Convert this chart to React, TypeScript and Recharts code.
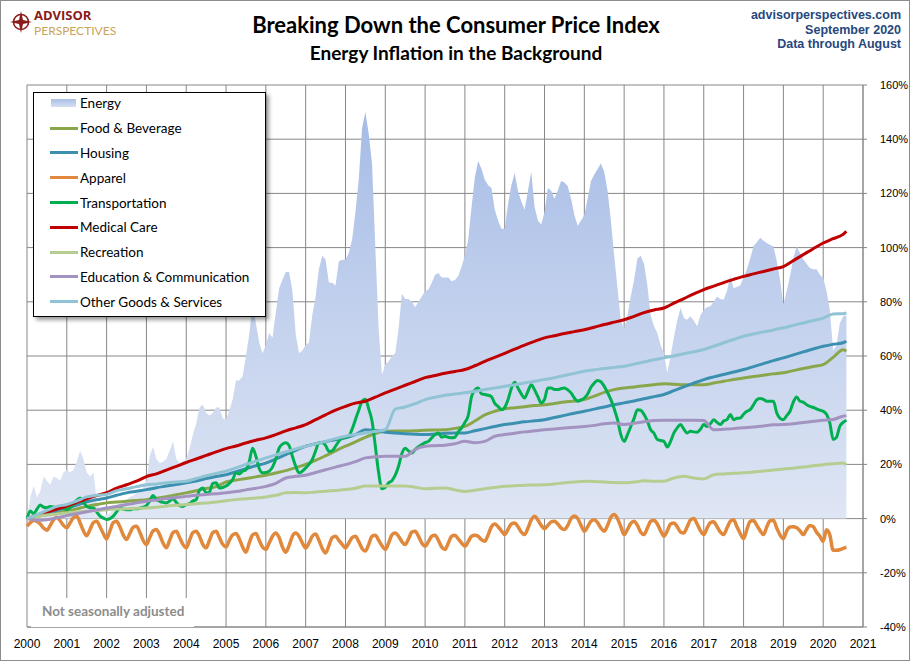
import React from 'react'
import { ComposedChart, Area, Line, XAxis, YAxis, CartesianGrid } from 'recharts'

// monthly series, Jan 2000 .. Aug 2020 (one line per year)
const energy = [
  0, 8, 12, 8, 10, 15.5, 14, 12.5, 15.5, 15, 14, 17,
  18, 17, 18, 21, 25, 22, 17, 15.5, 17, 7, 3, 1,
  1.5, 2, 4, 5, 5.5, 6, 7, 8, 8.5, 9.5, 10, 11.5,
  14, 23, 26.5, 22, 20.5, 21, 22, 25, 28.5, 22, 20.5, 21,
  22, 26, 31, 35, 41, 42, 39, 38, 39, 41, 41, 37,
  36.5, 40, 44, 51, 51, 52.5, 60, 68, 79.6, 72, 65, 61,
  64, 68.5, 66.7, 76, 85, 88, 91, 91, 84, 68, 61, 62,
  64, 65, 75, 82, 92, 97, 95.5, 87, 87, 86, 95, 95.5,
  95.5, 98, 103, 113, 125, 144, 150, 142, 131, 100, 70, 53,
  57, 58, 60, 61, 70, 83, 81, 81, 80, 78, 80, 82,
  84, 84.5, 87, 90, 90.6, 89, 89, 89, 87.6, 88, 89.5, 93,
  97, 103, 115, 126, 132, 129, 125, 123, 122, 114, 110, 107,
  107, 116, 123, 127.5, 121, 117, 114, 121, 128, 115, 110, 108.5,
  113, 122, 121, 118, 121, 124.6, 124, 122.6, 118, 112, 108, 110,
  112, 118, 124.6, 127, 129, 131, 128, 121, 110, 97, 85, 73,
  70, 75, 82, 88, 96, 97, 94, 86, 75, 71, 68.5, 64,
  61, 53.7, 60, 67, 73, 77.7, 74, 73.4, 74.7, 73, 71, 75,
  77, 78, 78.4, 80, 82, 81, 80.8, 84, 89.4, 85, 85.5, 86,
  89, 92, 96, 100.5, 102, 103.6, 102.5, 101.7, 101, 100.5, 95, 88,
  79, 84, 89.4, 96, 100.5, 98, 95.6, 94, 92.5, 92, 92, 90,
  88.8, 84, 77, 62, 64, 72, 74.7, 75,
]

const apparel = [
  -2.8, -1.5, -0.7, -1.0, -2.0, -3.5, -4.3, -2.5, -0.5, 0.5, -0.8, -2.5,
  -3.4, -1.5, 0.3, 0.9, -1.5, -4.5, -6.3, -4.0, -1.5, -1.0, -3.0, -5.5,
  -7.5, -4.5, -1.5, -1.0, -3.0, -6.0, -7.7, -5.5, -3.2, -2.8, -5.0, -8.0,
  -9.6, -7.0, -4.5, -4.0, -6.0, -9.0, -10.8, -8.0, -5.2, -4.7, -7.0, -9.5,
  -10.8, -8.0, -5.2, -4.7, -6.5, -9.5, -10.8, -8.0, -5.2, -4.7, -7.0, -9.5,
  -10.5, -8.0, -6.0, -5.5, -7.5, -10.5, -12.4, -9.0, -6.0, -5.5, -8.0, -10.5,
  -11.4, -9.0, -6.5, -5.3, -7.0, -10.5, -12.4, -10.0, -6.5, -5.3, -6.5, -9.0,
  -10.8, -9.0, -6.5, -5.7, -8.0, -11.0, -12.7, -10.0, -7.0, -6.5, -8.0, -9.5,
  -10.8, -9.0, -7.0, -6.5, -8.5, -11.0, -12.0, -9.5, -6.5, -6.1, -8.0, -10.0,
  -11.4, -9.0, -6.0, -5.3, -6.5, -8.5, -9.6, -7.5, -5.0, -4.7, -6.5, -9.0,
  -10.2, -8.5, -6.5, -6.1, -8.0, -10.5, -11.4, -9.0, -6.5, -6.1, -7.5, -9.0,
  -10.2, -8.5, -6.5, -6.1, -6.5, -7.8, -8.4, -6.0, -3.0, -2.0, -3.0, -4.5,
  -5.9, -4.0, -2.0, -1.6, -3.0, -5.0, -5.9, -3.5, -0.5, 0.9, -0.5, -2.5,
  -3.7, -2.5, -1.2, -1.0, -2.0, -3.5, -4.0, -2.5, 0.0, 1.0, 0.0, -2.5,
  -4.7, -3.0, -1.0, -0.4, -1.5, -3.5, -4.7, -2.5, 0.5, 1.5, 0.0, -3.0,
  -5.9, -4.0, -1.8, -1.0, -2.5, -5.0, -5.9, -3.5, -1.0, -0.6, -2.0, -4.5,
  -6.5, -4.5, -2.0, -1.6, -3.0, -5.0, -5.3, -3.0, -0.5, 0.0, -2.0, -4.5,
  -5.9, -3.5, -1.5, -1.2, -3.0, -5.0, -5.9, -3.5, -1.0, -0.4, -3.0, -5.5,
  -7.4, -4.0, -1.0, -0.7, -2.5, -4.5, -5.9, -3.0, -0.8, -0.6, -3.5, -6.0,
  -7.4, -4.5, -3.1, -3.0, -3.4, -4.5, -5.9, -4.0, -2.5, -3.0, -5.0, -6.5,
  -8.4, -4.1, -6.0, -11.7, -11.7, -11.5, -11.0, -10.5,
]

const transportation = [
  0, 2.8, 1.8, 3.5, 5.0, 4.2, 4.0, 4.5, 4.3, 3.8, 4.3, 3.8,
  3.3, 4.0, 5.2, 6.8, 7.6, 6.1, 4.5, 4.0, 3.9, 2.5, 0.9, 0.2,
  -0.3, 0, 0.9, 2.5, 3.9, 3.5, 3.3, 3.3, 3.6, 3.6, 3.8, 4.2,
  4.8, 6.5, 8.5, 7.0, 6.4, 6.0, 5.8, 6.5, 7.3, 6.0, 4.8, 4.5,
  5.2, 5.5, 6.5, 7.0, 10.5, 11.3, 9.5, 9.8, 13.0, 13.2, 11.3, 11.5,
  12.0, 13.0, 14.4, 16.9, 16.5, 17.5, 18.0, 21.0, 26.0, 23.0, 18.5, 16.9,
  17.0, 17.5, 19.0, 22.0, 26.0, 27.5, 28.0, 27.0, 23.0, 19.3, 16.9, 17.5,
  18.7, 20.0, 21.8, 25.0, 28.0, 28.0, 27.0, 24.8, 25.0, 26.7, 28.5, 29.8,
  30.0, 30.4, 33.0, 36.5, 40.0, 43.3, 44.0, 40.5, 36.0, 26.7, 16.9, 11.0,
  11.5, 13.2, 14.0, 16.0, 19.3, 24.0, 26.0, 25.0, 24.2, 25.5, 26.5, 27.3,
  28.0, 28.5, 29.8, 31.0, 31.6, 30.0, 30.4, 30.0, 29.8, 30.0, 32.0, 33.5,
  35.5, 38.0, 45.0, 47.5, 48.2, 46.0, 45.8, 45.5, 45.0, 42.5, 41.4, 40.2,
  41.0, 43.9, 48.0, 50.3, 48.2, 46.0, 44.5, 47.0, 49.4, 47.5, 45.0, 42.7,
  44.0, 48.2, 48.2, 47.6, 47.6, 48.0, 48.2, 47.5, 46.4, 44.5, 43.3, 43.8,
  44.5, 46.0, 48.5, 50.0, 51.0, 50.5, 48.8, 46.5, 43.9, 40.5, 36.5, 31.0,
  28.5, 31.0, 34.0, 37.0, 40.2, 40.0, 38.4, 36.0, 32.8, 31.5, 29.2, 28.8,
  28.5, 26.4, 28.5, 31.6, 33.5, 34.7, 33.0, 31.6, 32.2, 32.0, 31.9, 33.0,
  34.7, 34.0, 35.0, 36.5, 35.5, 34.7, 36.0, 36.5, 38.4, 36.5, 37.0, 37.1,
  38.5, 39.6, 40.2, 42.0, 43.9, 44.3, 44.0, 43.3, 43.3, 43.3, 39.0, 37.0,
  36.5, 38.0, 39.6, 43.0, 44.9, 43.3, 43.0, 42.0, 41.4, 41.0, 40.5, 40.0,
  39.6, 38.5, 35.3, 29.2, 30.0, 34.0, 35.5, 36.3,
]

// quarterly series (Jan, Apr, Jul, Oct), last value = Aug 2020
const foodBeverage = [
  0, 0.8, 1.5, 2.1, 2.7, 3.6, 4.5, 5.2, 5.8, 6.1, 6.4, 6.7,
  7.0, 7.5, 8.1, 8.8, 9.5, 10.3, 11.1, 11.8, 13.5, 14.2, 14.8, 15.4,
  16.0, 16.8, 17.7, 18.8, 20.0, 21.5, 23.2, 25.0, 26.7, 28.3, 30.0, 31.4,
  32.2, 32.3, 32.3, 32.4, 32.6, 32.7, 32.8, 33.3, 34.0, 36.0, 38.3, 39.6,
  40.5, 40.9, 41.3, 41.7, 42.0, 42.5, 43.0, 43.4, 43.9, 45.2, 46.6, 47.6,
  48.2, 48.6, 49.0, 49.4, 49.8, 49.6, 49.4, 49.4, 49.4, 50.0, 50.7, 51.3,
  51.9, 52.4, 52.9, 53.4, 53.8, 54.6, 55.4, 56.1, 56.8, 59.5, 62.3, 61.8,
]
const housing = [
  0, 1.0, 2.0, 3.0, 3.9, 5.0, 6.2, 7.0, 7.6, 8.6, 9.5, 10.1,
  10.7, 11.4, 12.0, 12.6, 13.2, 13.9, 14.8, 15.5, 16.2, 17.3, 18.4, 19.5,
  20.5, 22.0, 23.6, 25.2, 26.7, 27.6, 28.4, 29.1, 29.8, 31.0, 32.8, 32.5,
  31.9, 31.6, 31.3, 31.1, 31.0, 31.2, 31.5, 31.6, 31.6, 32.4, 33.2, 34.0,
  34.7, 35.2, 35.7, 36.1, 36.5, 37.3, 38.1, 38.9, 39.6, 40.4, 41.2, 42.0,
  42.7, 43.4, 44.2, 45.0, 45.8, 47.2, 48.6, 50.0, 51.3, 52.3, 53.2, 54.1,
  55.0, 56.1, 57.2, 58.3, 59.3, 60.4, 61.5, 62.6, 63.6, 64.3, 64.9, 65.4,
]
const medicalCare = [
  0, 1.2, 2.4, 3.5, 4.6, 6.0, 7.3, 8.5, 9.6, 11.2, 12.5, 13.8,
  15.5, 16.5, 17.9, 19.3, 20.7, 22.0, 23.3, 24.6, 25.8, 26.8, 27.9, 28.9,
  29.8, 31.0, 32.4, 33.5, 34.7, 36.5, 38.3, 40.0, 41.4, 42.6, 43.3, 44.8,
  46.4, 47.8, 49.2, 50.6, 52.0, 52.8, 53.6, 54.3, 55.0, 56.4, 58.0, 59.5,
  61.0, 62.5, 64.0, 65.4, 66.7, 67.5, 68.3, 69.0, 69.7, 70.6, 71.6, 72.5,
  73.4, 74.6, 76.0, 77.0, 77.7, 79.5, 81.2, 82.9, 84.5, 85.8, 87.1, 88.3,
  89.4, 90.3, 91.2, 92.1, 93.0, 95.2, 97.4, 99.6, 101.7, 103.3, 104.9, 106.0,
]
const recreation = [
  0, 0.8, 1.3, 1.7, 2.1, 2.4, 2.7, 3.0, 3.3, 3.5, 3.6, 3.8,
  3.9, 4.2, 4.6, 4.9, 5.2, 5.5, 5.8, 6.1, 6.6, 7.0, 7.3, 7.6,
  8.0, 8.6, 9.5, 9.6, 9.5, 9.8, 10.1, 10.4, 10.7, 11.2, 12.0, 12.0,
  12.0, 12.0, 12.0, 11.6, 11.0, 11.2, 11.3, 10.6, 10.0, 10.5, 11.0, 11.5,
  11.9, 12.1, 12.3, 12.4, 12.5, 12.8, 13.2, 13.5, 13.8, 13.7, 13.5, 13.3,
  13.2, 13.5, 14.0, 13.8, 13.8, 15.0, 15.6, 15.0, 14.6, 16.2, 16.5, 16.7,
  16.9, 17.2, 17.6, 17.9, 18.3, 18.6, 19.0, 19.5, 19.9, 20.2, 20.5, 19.9,
]
const eduComm = [
  0, -0.6, -0.4, 0.3, 1.1, 1.8, 2.5, 3.2, 3.9, 4.5, 5.2, 5.8,
  6.4, 6.9, 7.4, 7.8, 8.2, 8.6, 8.9, 9.2, 9.5, 10.0, 10.6, 11.2,
  11.9, 13.0, 15.0, 15.6, 16.0, 17.0, 18.0, 19.0, 19.9, 21.0, 22.4, 22.8,
  23.0, 23.0, 23.0, 25.5, 26.7, 26.9, 27.1, 27.6, 28.5, 28.0, 28.5, 30.4,
  31.0, 31.5, 32.0, 32.4, 32.8, 33.1, 33.4, 33.7, 34.0, 34.4, 35.0, 35.3,
  34.7, 35.2, 35.7, 36.2, 36.3, 36.3, 36.3, 36.3, 36.2, 32.8, 33.0, 33.2,
  33.5, 33.8, 34.2, 34.6, 34.7, 35.0, 35.5, 35.9, 36.3, 36.6, 37.8, 38.0,
]
const otherGoods = [
  0, 1.5, 3.0, 4.5, 5.2, 6.5, 8.0, 8.6, 8.9, 10.3, 11.0, 11.8,
  12.5, 12.8, 13.2, 13.5, 13.8, 14.8, 15.8, 16.7, 17.5, 18.7, 20.0, 21.2,
  22.4, 23.5, 24.6, 25.7, 26.7, 27.6, 28.5, 29.5, 30.4, 31.0, 31.6, 32.2,
  32.8, 40.4, 41.2, 42.4, 43.9, 44.8, 45.5, 46.0, 46.4, 47.0, 47.6, 48.2,
  48.8, 49.4, 50.0, 50.7, 51.3, 52.0, 52.8, 53.6, 54.4, 54.9, 55.4, 55.8,
  56.2, 57.0, 57.8, 58.6, 59.3, 60.0, 60.8, 61.6, 62.4, 63.6, 64.9, 66.1,
  67.3, 68.1, 68.9, 69.6, 70.4, 71.3, 72.2, 73.1, 74.0, 75.5, 75.6, 75.9,
]

const yearTicks = [2000, 2001, 2002, 2003, 2004, 2005, 2006, 2007, 2008, 2009, 2010,
  2011, 2012, 2013, 2014, 2015, 2016, 2017, 2018, 2019, 2020, 2021]
const pctTicks = [-40, -20, 0, 20, 40, 60, 80, 100, 120, 140, 160]

const monthly = (vals: number[]) => vals.map((v, i) => ({ x: 2000 + i / 12, v }))
const quarterly = (vals: number[]) =>
  vals.map((v, i) => ({ x: i < vals.length - 1 ? 2000 + i / 4 : 2000 + 247 / 12, v }))

const lines = [
  { name: 'Food & Beverage', data: quarterly(foodBeverage), color: '#8aa64a', width: 3 },
  { name: 'Housing', data: quarterly(housing), color: '#3b90b0', width: 3 },
  { name: 'Apparel', data: monthly(apparel), color: '#e0883c', width: 3.5 },
  { name: 'Transportation', data: monthly(transportation), color: '#00b050', width: 3 },
  { name: 'Medical Care', data: quarterly(medicalCare), color: '#c00000', width: 3 },
  { name: 'Recreation', data: quarterly(recreation), color: '#b5cd90', width: 3 },
  { name: 'Education & Communication', data: quarterly(eduComm), color: '#a393c0', width: 3 },
  { name: 'Other Goods & Services', data: quarterly(otherGoods), color: '#90c3d4', width: 3 },
]

const gridColor = '#878787'
const xTickStyle = { fill: '#000', fontSize: 12, fontFamily: 'Liberation Sans, Arial, sans-serif' }
const yTickStyle = { fill: '#000', fontSize: 11, fontFamily: 'Liberation Sans, Arial, sans-serif' }

function ChartLegend() {
  return (
    <div
      style={{
        position: 'absolute', left: 32, top: 91, width: 233, height: 225,
        boxSizing: 'border-box', border: '1px solid #000', background: '#fff',
        boxShadow: '3px 3px 4px rgba(0,0,0,0.4)', fontFamily: 'Lato, sans-serif', fontSize: 13.5,
      }}
    >
      <div style={{ position: 'relative', top: -2 }}>
        <div style={{ height: 24.8, display: 'flex', alignItems: 'center' }}>
          <span style={{ marginLeft: 17, width: 25, height: 8, marginRight: 4,
            background: 'linear-gradient(#a9bfe7, #d5def2)' }} />
          <span>Energy</span>
        </div>
        {lines.map(l => (
          <div key={l.name} style={{ height: 24.8, display: 'flex', alignItems: 'center' }}>
            <span style={{ marginLeft: 16, width: 28, height: 3, marginRight: 2, background: l.color }} />
            <span>{l.name}</span>
          </div>
        ))}
      </div>
    </div>
  )
}

function Overlay() {
  const navy = '#27477d'
  return (
    <svg width={910} height={661} style={{ position: 'absolute', left: 0, top: 0, pointerEvents: 'none' }}>
      <circle cx={20} cy={21} r={7.5} fill="none" stroke="#8b1c1c" strokeWidth={1.6} />
      <polygon points="20,10 22,19 31,21 22,23 20,32 18,23 9,21 18,19" fill="#8b1c1c" />
      <text x={33} y={19} fill="#8b1a1a" fontFamily="Open Sans, sans-serif" fontWeight="bold" fontSize={13}>ADVISOR</text>
      <text x={33} y={33.5} fill="#c8a45c" fontFamily="Lato, sans-serif" fontSize={12}>PERSPECTIVES</text>
      <text x={455} y={32} textAnchor="middle" fontFamily="Lato, sans-serif" fontWeight="bold" fontSize={22} fill="#000">
        Breaking Down the Consumer Price Index
      </text>
      <text x={455} y={59} textAnchor="middle" fontFamily="Lato, sans-serif" fontWeight="bold" fontSize={19} fill="#000">
        Energy Inflation in the Background
      </text>
      <g fontFamily="Liberation Sans, Arial, sans-serif" fontWeight="bold" fontSize={12.5} fill={navy} textAnchor="end">
        <text x={900} y={18}>advisorperspectives.com</text>
        <text x={900} y={32.5}>September 2020</text>
        <text x={900} y={47}>Data through August</text>
      </g>
      <rect x={30} y={597} width={163} height={29} fill="#fff" />
      <text x={41} y={614.5} fill="#8c8c8c" fontFamily="Lato, sans-serif" fontWeight="bold" fontSize={13.5}>
        Not seasonally adjusted
      </text>
    </svg>
  )
}

export default function App() {
  return (
    <div
      style={{
        position: 'absolute', left: 0, top: 0, width: 910, height: 661,
        boxSizing: 'border-box', border: '1px solid #8c8c8c', background: '#fff', overflow: 'hidden',
      }}
    >
      <div style={{ position: 'absolute', left: -1, top: -1 }}>
        <ComposedChart width={910} height={661} margin={{ top: 85, right: 7, bottom: 4, left: 27 }}>
          <defs>
            <linearGradient id="energyFill" x1="0" y1="0" x2="0" y2="1">
              <stop offset="0%" stopColor="#a6bce6" />
              <stop offset="100%" stopColor="#dfe6f4" />
            </linearGradient>
          </defs>
          <CartesianGrid stroke={gridColor} strokeWidth={1} />
          <XAxis
            dataKey="x" type="number" domain={[2000, 2021]} ticks={yearTicks}
            height={30} tickSize={0} tickMargin={12} tickLine={false}
            axisLine={{ stroke: gridColor }} tick={xTickStyle} allowDuplicatedCategory={false}
          />
          <YAxis
            orientation="right" type="number" domain={[-40, 160]} ticks={pctTicks} width={40}
            tickSize={4} tickMargin={13} tickFormatter={(v: number) => `${v}%`}
            axisLine={{ stroke: gridColor }} tickLine={{ stroke: gridColor }} tick={yTickStyle}
          />
          <Area
            data={monthly(energy)} dataKey="v" name="Energy" type="linear"
            stroke="none" fill="url(#energyFill)" fillOpacity={1} isAnimationActive={false}
          />
          {lines.map(l => (
            <Line
              key={l.name} data={l.data} dataKey="v" name={l.name} type="monotone"
              stroke={l.color} strokeWidth={l.width} dot={false} activeDot={false} isAnimationActive={false}
            />
          ))}
        </ComposedChart>
      </div>
      <Overlay />
      <ChartLegend />
    </div>
  )
}
